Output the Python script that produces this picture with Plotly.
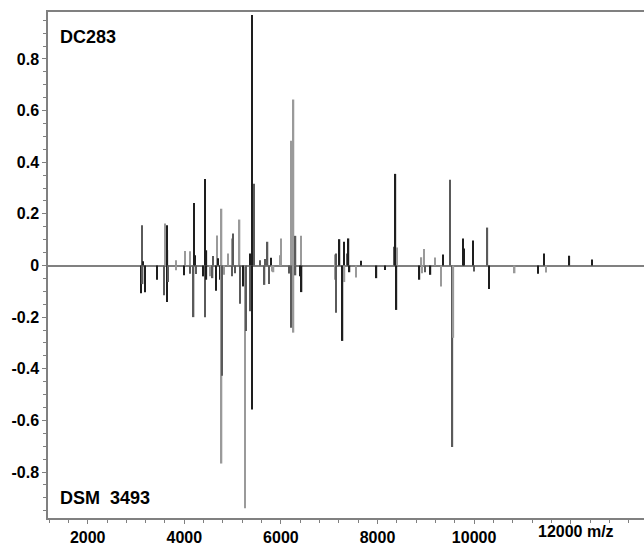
import plotly.graph_objects as go

# DC283 (positive) peaks: m/z, relative intensity, shade
pos_mz = [3130, 3150, 3600, 3641, 3650, 3827, 4013, 4117, 4199, 4220, 4427, 4458,
          4592, 4675, 4696, 4772, 4903, 4986, 5006, 5130, 5145, 5358, 5399, 5441,
          5565, 5668, 5724, 5793, 5979, 6000, 6206, 6262, 6303, 6413, 7117, 7137,
          7214, 7303, 7365, 7400, 7655, 8337, 8372, 8399, 8910, 8964, 9196, 9357,
          9502, 9771, 9792, 9978, 10276, 11447, 11973, 12440]
pos_val = [0.156, 0.017, 0.163, 0.156, 0.06, 0.02, 0.056, 0.055, 0.242, 0.04, 0.335, 0.059,
           0.037, 0.116, 0.028, 0.22, 0.047, 0.105, 0.124, 0.03, 0.178, 0.047, 0.97, 0.317,
           0.02, 0.025, 0.092, 0.03, 0.04, 0.105, 0.483, 0.643, 0.115, 0.115, 0.043, 0.047,
           0.102, 0.092, 0.047, 0.105, 0.018, 0.073, 0.355, 0.07, 0.032, 0.064, 0.031, 0.043,
           0.332, 0.105, 0.066, 0.097, 0.147, 0.047, 0.038, 0.023]
pos_shade = ["g", "d", "l", "d", "d", "l", "l", "l", "d", "d", "d", "d",
             "g", "l", "d", "l", "l", "l", "g", "d", "l", "d", "d", "g",
             "g", "g", "g", "d", "l", "l", "l", "l", "g", "l", "l", "g",
             "d", "d", "g", "d", "d", "g", "d", "l", "l", "l", "l", "d",
             "g", "d", "d", "d", "g", "d", "d", "d"]

# DSM 3493 (negative) peaks
neg_mz = [3109, 3138, 3192, 3440, 3585, 3647, 3661, 3833, 3992, 4123, 4193, 4241,
          4400, 4427, 4458, 4530, 4586, 4661, 4752, 4772, 4785, 4826, 4992, 5048,
          5151, 5228, 5261, 5275, 5372, 5406, 5662, 5751, 5813, 5848, 6179, 6212,
          6262, 6303, 6392, 6428, 7131, 7144, 7276, 7317, 7421, 7551, 7979, 8157,
          8393, 8869, 8923, 8979, 9097, 9310, 9552, 9572, 9993, 10303, 10841, 11323, 11489]
neg_val = [-0.107, -0.072, -0.104, -0.055, -0.115, -0.141, -0.064, -0.018, -0.038, -0.032, -0.2, -0.033,
           -0.042, -0.2, -0.055, -0.042, -0.049, -0.098, -0.055, -0.767, -0.427, -0.036, -0.042, -0.03,
           -0.148, -0.081, -0.94, -0.254, -0.177, -0.558, -0.075, -0.072, -0.023, -0.026, -0.031, -0.241,
           -0.26, -0.038, -0.042, -0.103, -0.055, -0.183, -0.292, -0.064, -0.026, -0.046, -0.049, -0.017,
           -0.172, -0.055, -0.03, -0.026, -0.036, -0.081, -0.703, -0.28, -0.023, -0.091, -0.03, -0.032, -0.027]
neg_shade = ["d", "g", "d", "d", "g", "d", "g", "l", "d", "g", "g", "g",
             "d", "g", "d", "l", "g", "d", "d", "l", "g", "l", "g", "g",
             "g", "d", "l", "g", "g", "d", "g", "g", "l", "l", "g", "g",
             "l", "g", "d", "d", "l", "g", "d", "l", "d", "l", "d", "d",
             "d", "d", "l", "g", "d", "l", "g", "l", "g", "d", "l", "d", "l"]

x_ticks = [2000, 4000, 6000, 8000, 10000, 12000]
x_ticktext = ["2000", "4000", "6000", "8000", "10000", ""]
y_ticks = [-0.8, -0.6, -0.4, -0.2, 0, 0.2, 0.4, 0.6, 0.8]
y_ticktext = ["-0.8", "-0.6", "-0.4", "-0.2", "0", "0.2", "0.4", "0.6", "0.8"]

shade_col = {"d": "#1e1e1e", "g": "#5a5a5a", "l": "#9a9a9a"}
FONT = "Liberation Sans, Arial, sans-serif"

fig = go.Figure()
fig.add_trace(go.Bar(x=pos_mz, y=pos_val, width=30,
                     marker=dict(color=[shade_col[s] for s in pos_shade], line=dict(width=0)),
                     showlegend=False))
fig.add_trace(go.Bar(x=neg_mz, y=neg_val, width=30,
                     marker=dict(color=[shade_col[s] for s in neg_shade], line=dict(width=0)),
                     showlegend=False))

fig.update_layout(
    width=644, height=546,
    margin=dict(l=48, r=0, t=12, b=24),
    paper_bgcolor="white", plot_bgcolor="white",
    barmode="overlay",
    font=dict(family=FONT, size=16, color="black"),
    xaxis=dict(range=[1178, 13518], tickvals=x_ticks, ticktext=x_ticktext,
               showgrid=False, zeroline=False, showline=True, linecolor="#808080", linewidth=1.5,
               mirror=True, ticks="outside", ticklen=4, tickcolor="#808080",
               tickfont=dict(family=FONT, size=16, weight="bold"),
               minor=dict(dtick=400, tick0=0, ticks="outside", ticklen=3, tickcolor="#808080")),
    yaxis=dict(range=[-0.978, 0.982], tickvals=y_ticks, ticktext=y_ticktext,
               showgrid=False, zeroline=True, zerolinecolor="#808080", zerolinewidth=1.5,
               showline=True, linecolor="#808080", linewidth=1.5,
               ticks="outside", ticklen=4, tickcolor="#808080",
               tickfont=dict(family=FONT, size=16, weight="bold"),
               minor=dict(dtick=0.05, tick0=0, ticks="outside", ticklen=3, tickcolor="#808080")),
    annotations=[
        dict(text="DC283", xref="paper", yref="paper", x=0.017, y=0.95, xanchor="left",
             yanchor="middle", showarrow=False, font=dict(family=FONT, size=18, weight="bold")),
        dict(text="DSM\u00a0\u00a03493", xref="paper", yref="paper", x=0.017, y=0.04, xanchor="left",
             yanchor="middle", showarrow=False, font=dict(family=FONT, size=18, weight="bold")),
        dict(text="12000\u00a0m/z", xref="paper", yref="paper", x=(536 - 48) / 596, y=0,
             xanchor="left", yanchor="top", yshift=-3, showarrow=False,
             font=dict(family=FONT, size=16, weight="bold")),
    ],
)

fig.write_html("out.html")
